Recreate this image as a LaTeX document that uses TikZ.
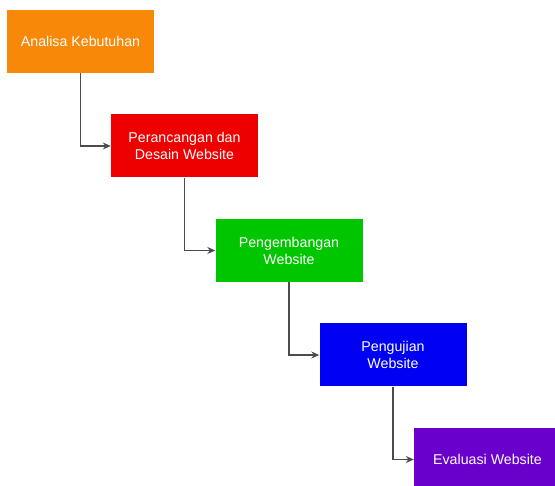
\documentclass[tikz,border=0pt]{standalone}
\usepackage{fontspec}
\setmainfont{Liberation Sans}
\usetikzlibrary{arrows.meta}
\definecolor{analisaorange}{RGB}{248,136,8}
\definecolor{desainred}{RGB}{238,0,0}
\definecolor{kembanggreen}{RGB}{0,198,0}
\definecolor{ujiblue}{RGB}{0,0,242}
\definecolor{evalpurple}{RGB}{106,0,204}
\tikzset{
  phase/.style={rectangle, minimum width=147pt, minimum height=63pt,
    text=white, align=center, inner sep=0pt,
    font=\fontsize{14.2}{17}\selectfont},
  flow/.style={draw=black!70, line width=1.2pt, -{Stealth[length=8pt,width=7pt]}}
}
\begin{document}
\begin{tikzpicture}[x=1pt, y=-1pt]
  \useasboundingbox (0,0) rectangle (555,486);
  \clip (0,0) rectangle (555,486);
  % fases
  \node[phase, fill=analisaorange] (analisa) at (80.5,41.5) {Analisa Kebutuhan};
  \node[phase, fill=desainred] (desain) at (184.5,146) {Perancangan dan\\Desain Website};
  \node[phase, fill=kembanggreen] (kembang) at (289,250.5) {Pengembangan\\Website};
  \node[phase, fill=ujiblue] (uji) at (393,355) {Pengujian\\Website};
  \node[phase, fill=evalpurple] (eval) at (487.5,459.5) {Evaluasi Website};
  % alur
  \draw[flow] (analisa.south) |- (desain.west);
  \draw[flow] (desain.south) |- (kembang.west);
  \draw[flow] (kembang.south) |- (uji.west);
  \draw[flow] (uji.south) |- (eval.west);
\end{tikzpicture}
\end{document}
